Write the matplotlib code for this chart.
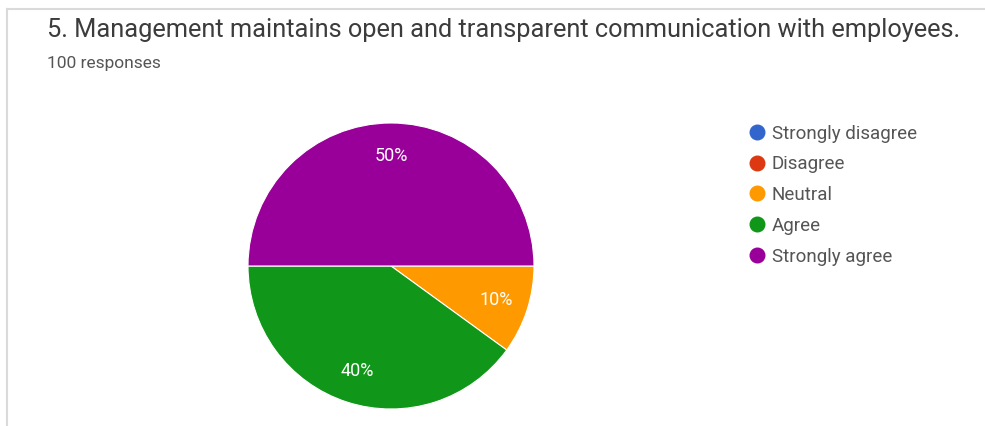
import matplotlib.pyplot as plt
from matplotlib.lines import Line2D

categories = ["Strongly disagree", "Disagree", "Neutral", "Agree", "Strongly agree"]
shares = [0, 0, 10, 40, 50]
colors = ["#3366cc", "#dc3912", "#ff9900", "#109618", "#990099"]
title = "5. Management maintains open and transparent communication with employees."
subtitle = "100 responses"

W, H = 985, 426
fig = plt.figure(figsize=(W / 100, H / 100), dpi=100)
plt.rcParams['font.family'] = ['Roboto', 'DejaVu Sans']

# card border (top and left edges only)
fig.add_artist(Line2D([7 / W, 7 / W], [0, 1 - 9 / H], color="#dadada", lw=1.5))
fig.add_artist(Line2D([7 / W, 1], [1 - 9 / H, 1 - 9 / H], color="#dadada", lw=1.5))

fig.text(47 / W, 1 - 37 / H, title, fontsize=18.3, color="#3c3c3c", va="baseline")
fig.text(47 / W, 1 - 68 / H, subtitle, fontsize=12.5, color="#555555", va="baseline")

cx, cy, r = 391, 266, 143
ax = fig.add_axes([(cx - r) / W, (H - cy - r) / H, 2 * r / W, 2 * r / H])


def pct(p):
    return "%d%%" % round(p) if p > 0 else ""


wedges, texts, autotexts = ax.pie(shares, colors=colors, startangle=0, counterclock=False,
                                  autopct=pct, pctdistance=0.77,
                                  wedgeprops=dict(edgecolor="white", linewidth=0.8),
                                  textprops=dict(color="white", fontsize=13))
ax.set_aspect("equal")
ax.set_xlim(-1, 1)
ax.set_ylim(-1, 1)
ax.axis("off")

# legend with round markers
handles = [Line2D([], [], marker="o", ls="", markersize=10.5, markerfacecolor=c,
                  markeredgecolor=c) for c in colors]
fig.legend(handles, categories, loc="upper left", bbox_to_anchor=(741 / W, 1 - 117 / H),
           frameon=False, fontsize=13.5, labelcolor="#555555", handletextpad=0.35,
           labelspacing=0.68, borderaxespad=0, handlelength=0.9)

fig.savefig("out.png", dpi=100)
